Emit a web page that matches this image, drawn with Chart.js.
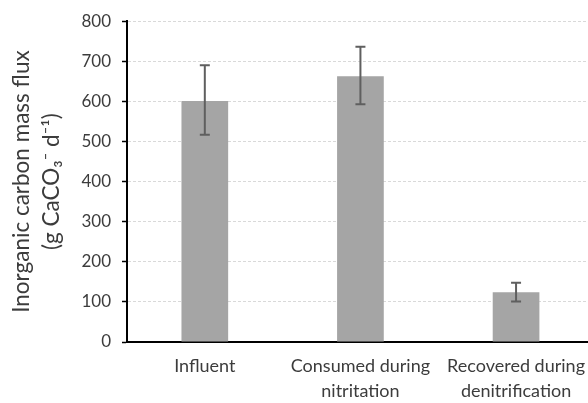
<!DOCTYPE html>
<html>
<head>
<meta charset="utf-8">
<script src="https://cdn.jsdelivr.net/npm/chart.js@4/dist/chart.umd.min.js"></script>
<style>
  html, body { margin: 0; padding: 0; background: #fff; overflow: hidden; }
  #wrap { width: 597px; height: 403px; position: relative; }
</style>
</head>
<body>
<div id="wrap"><canvas id="fluxChart"></canvas></div>
<script>
const categories = [
  ["Influent"],
  ["Consumed during", "nitritation"],
  ["Recovered during", "denitrification"]
];
const fluxValues = [601, 663, 124];
// error bar extents above and below each bar
const errPlus = [89, 73, 24];
const errMinus = [84, 70, 23];
const yTicks = [0, 100, 200, 300, 400, 500, 600, 700, 800];

const TEXT_COLOR = "#3c3c3c";
const FONT = "Lato, 'Open Sans', sans-serif";

const errorBars = {
  id: "errorBars",
  afterDatasetsDraw(chart) {
    const ctx = chart.ctx;
    const meta = chart.getDatasetMeta(0);
    const y = chart.scales.y;
    ctx.save();
    ctx.strokeStyle = "#5f5f5f";
    ctx.lineWidth = 2;
    meta.data.forEach((bar, i) => {
      const top = y.getPixelForValue(fluxValues[i] + errPlus[i]);
      const bottom = y.getPixelForValue(fluxValues[i] - errMinus[i]);
      const cap = 5;
      ctx.beginPath();
      ctx.moveTo(bar.x, top);
      ctx.lineTo(bar.x, bottom);
      ctx.moveTo(bar.x - cap, top);
      ctx.lineTo(bar.x + cap, top);
      ctx.moveTo(bar.x - cap, bottom);
      ctx.lineTo(bar.x + cap, bottom);
      ctx.stroke();
    });
    ctx.restore();
  }
};

new Chart(document.getElementById("fluxChart"), {
  type: "bar",
  data: {
    labels: categories,
    datasets: [{
      data: fluxValues,
      backgroundColor: "#a5a5a5",
      borderWidth: 0,
      barPercentage: 0.3,
      categoryPercentage: 1
    }]
  },
  options: {
    responsive: true,
    maintainAspectRatio: false,
    animation: false,
    layout: { padding: { top: 18, left: 0, right: 0, bottom: 0 } },
    plugins: {
      legend: { display: false },
      tooltip: { enabled: false }
    },
    scales: {
      x: {
        grid: { display: false, drawTicks: false },
        border: { display: true, color: "#000", width: 2 },
        ticks: {
          color: TEXT_COLOR,
          font: { family: FONT, size: 18, lineHeight: 1.39 },
          padding: 12,
          maxRotation: 0,
          autoSkip: false
        },
        afterFit(scale) { scale.height = 61; }
      },
      y: {
        min: 0,
        max: 800,
        afterBuildTicks(scale) {
          scale.ticks = yTicks.map((v) => ({ value: v }));
        },
        grid: {
          color: "#d9d9d9",
          lineWidth: 1,
          tickColor: "#000",
          tickLength: 5,
          tickWidth: 1.5,
          tickBorderDash: []
        },
        border: { display: true, color: "#000", width: 2, dash: [3, 2] },
        ticks: {
          color: TEXT_COLOR,
          font: { family: FONT, size: 17 },
          padding: 11
        },
        title: {
          display: true,
          text: ["Inorganic carbon mass flux", "(g CaCO\u2083\u207B d\u207B\u00B9)"],
          color: TEXT_COLOR,
          font: { family: FONT, size: 22.5, lineHeight: 1.33 },
          padding: { top: 7, bottom: 0 }
        },
        afterFit(scale) { scale.width = 127; }
      }
    }
  },
  plugins: [errorBars]
});
</script>
</body>
</html>
